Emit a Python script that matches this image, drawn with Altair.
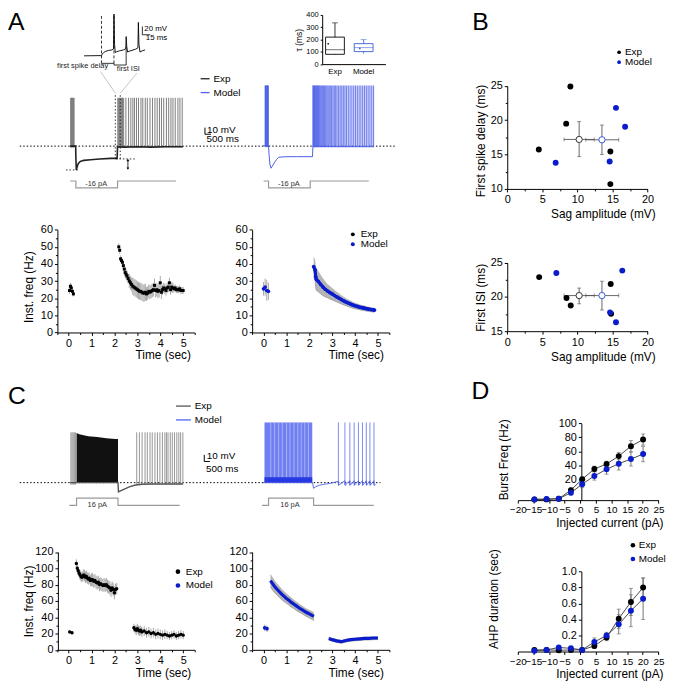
import altair as alt
import pandas as pd

# ============================ DATA ============================
series = ["Exp", "Model"]

# --- A inset: box plot of tau (ms)
tau_group = ["Exp", "Model"]
tau_whisk_lo = [76, 86]
tau_q1 = [80, 102]
tau_median = [117, 134]
tau_q3 = [220, 167]
tau_whisk_hi = [336, 199]
tau_mean = [166, 128]

# --- A traces: time (s), membrane potential (mV relative to rest)
a_exp_sub_t = [0, 0.24, 0.25, 0.27, 0.30, 0.36, 0.45, 0.60, 0.90, 1.30, 1.80, 2.08, 2.10, 2.40, 3.00, 3.60, 4.20, 5.00]
a_exp_sub_v = [0, 0, -18, -36, -32, -26, -23, -21.5, -20.5, -19.5, -18.5, -18.5, -1, -1.5, -1, -1.5, -1, -1]
a_exp_spikes = [0.02, 0.05, 0.08, 0.11, 0.14, 0.17,
                2.11, 2.15, 2.19, 2.24, 2.28, 2.32, 2.37, 2.47, 2.59, 2.69, 2.78, 2.85, 2.94, 3.03,
                3.14, 3.22, 3.33, 3.42, 3.54, 3.65, 3.76, 3.86, 3.96, 4.05, 4.15, 4.27, 4.37, 4.47,
                4.56, 4.66, 4.78, 4.87, 4.97]
a_exp_spike_peak = 73
a_mod_sub_t = [0, 0.25, 0.27, 0.31, 0.36, 0.42, 0.50, 0.60, 0.70, 1.00, 1.50, 2.00, 2.20, 2.22, 3.00, 4.00, 4.92]
a_mod_sub_v = [0, 0, -12, -28, -34, -31, -26, -21, -17.5, -16.5, -16.5, -16.5, -16.5, -1.5, -1.5, -1.5, -1.5]
a_mod_spikes = [0.10, 0.12, 0.14, 0.16, 0.18, 0.20, 0.22, 0.24,
                2.22, 2.245, 2.27, 2.295, 2.32, 2.35, 2.38, 2.41, 2.44, 2.47, 2.50, 2.54, 2.58, 2.62,
                2.66, 2.70, 2.74, 2.79, 2.84, 2.89, 2.94, 2.99, 3.05, 3.11, 3.17, 3.23, 3.29, 3.36,
                3.43, 3.50, 3.57, 3.64, 3.71, 3.79, 3.87, 3.95, 4.03, 4.11, 4.19, 4.27, 4.35, 4.43,
                4.51, 4.59, 4.67, 4.75, 4.83, 4.91]
a_mod_spike_peak = 91
a_stim_t_exp = [0, 0.25, 0.25, 2.10, 2.10, 4.70]
a_stim_t_mod = [0.03, 0.25, 0.25, 2.10, 2.10, 4.70]
a_stim_pA = [0, 0, -16, -16, 0, 0]

# --- A inset: rebound onset (ms, mV relative to hyperpolarised level)
inset_t = [-24, -2, 0, 1, 3, 6, 10, 14, 16.5, 17.2, 18, 19, 21, 25, 30, 33.5, 34, 34.8, 36, 38,
           42, 47, 50.2, 50.8, 51.6, 53, 56, 60]
inset_v = [0, 0.5, 0, 4, 8, 11, 13, 14, 16, 100, 28, 8, 10, 12, 14, 17, 46, 22, 9, 11,
           13, 16, 19, 80, 28, 9, 12, 14]
inset_marks_ms = [0, 17.2, 34]

# --- A inst. frequency (Hz) vs time (s)
a_exp_f_t = [0.04, 0.08, 0.12, 0.17, 0.21,
             2.19, 2.23, 2.27, 2.31, 2.35, 2.39, 2.43, 2.47, 2.51, 2.55, 2.6, 2.65, 2.7, 2.75, 2.8,
             2.85, 2.9, 2.95, 3.0, 3.05, 3.1, 3.15, 3.2, 3.25, 3.3, 3.35, 3.4, 3.45, 3.5, 3.55, 3.6,
             3.65, 3.7, 3.75, 3.8, 3.85, 3.9, 3.95, 4.0, 4.05, 4.1, 4.15, 4.2, 4.25, 4.3, 4.35, 4.4,
             4.45, 4.5, 4.55, 4.6, 4.65, 4.7, 4.75, 4.8, 4.85, 4.9, 4.95, 5.0]
a_exp_f_v = [24.5, 27, 26, 24, 22.5,
             50, 48, 43, 42, 41, 39, 37, 35, 34, 33, 31.5, 30, 29, 28, 27,
             26.5, 26, 25.5, 25, 24.5, 24, 24, 23.5, 23, 23, 23.5, 22.5, 23, 24, 23.5, 24,
             24.5, 25, 27.5, 24.5, 25, 24, 24.5, 29, 23.5, 25, 26, 25.5, 24.5, 26, 26.5, 29,
             25, 26.5, 26, 25.5, 26, 25, 25, 25, 25.5, 24.5, 24.5, 24.5]
a_exp_f_e = [2, 2, 2, 1.5, 1.5,
             2, 2, 2, 2, 2, 2, 3, 3, 3, 3, 3, 4, 4, 4, 5,
             5, 5, 5, 5, 5, 5, 5, 5, 5, 5, 5, 4, 4, 4, 4, 4,
             4, 4, 4, 4, 4, 4, 4, 4, 4, 3, 3, 3, 3, 3, 3, 3,
             3, 3, 3, 2, 2, 2, 2, 2, 2, 2, 2, 2]
a_mod_f_t0 = [0.0, 0.07, 0.14, 0.21]
a_mod_f_v0 = [25.5, 26.5, 24.5, 24]
a_mod_f_e0 = [4, 5, 6, 5]
a_mod_f_t = [2.19, 2.25, 2.28, 2.31, 2.4, 2.5, 2.6, 2.7, 2.8, 2.9, 3.0, 3.1, 3.2, 3.3, 3.4,
             3.5, 3.6, 3.7, 3.8, 3.9, 4.0, 4.1, 4.2, 4.3, 4.4, 4.5, 4.6, 4.7, 4.8, 4.85]
a_mod_f_v = [38.5, 36.5, 32.5, 31, 29.7, 28, 26.5, 25.2, 24.2, 23.3, 22.5, 21.6, 20.8, 20, 19.2,
             18.5, 17.8, 17.2, 16.6, 16.1, 15.6, 15.2, 14.8, 14.5, 14.2, 13.9, 13.6, 13.4, 13.2, 13.1]
a_mod_f_e = [6, 6, 6.5, 6.5, 6, 5.5, 5, 4.5, 4, 3.8, 3.5, 3.2, 3, 2.8, 2.6,
             2.4, 2.2, 2.1, 2, 1.9, 1.8, 1.7, 1.6, 1.5, 1.5, 1.4, 1.4, 1.3, 1.3, 1.3]

# --- B scatter: sag amplitude (mV) vs first spike delay / first ISI (ms)
b_exp_sag = [4.5, 9.0, 8.4, 14.7, 14.7]
b_exp_delay = [15.75, 24.9, 19.5, 15.45, 10.7]
b_mod_sag = [6.9, 15.5, 16.8, 14.6]
b_mod_delay = [13.8, 21.8, 19.05, 14.0]
b_exp_sag2 = [4.55, 8.45, 9.05, 14.75, 14.8]
b_exp_isi = [22.9, 19.85, 18.75, 21.9, 17.55]
b_mod_sag2 = [7.0, 16.4, 14.65, 15.5]
b_mod_isi = [23.5, 23.85, 17.75, 16.3]
b_mean_sag = [10.25, 13.5]
b_mean_sag_lo = [8.1, 11.2]
b_mean_sag_hi = [12.4, 15.9]
b_mean_delay = [17.2, 17.15]
b_mean_delay_lo = [14.7, 15.0]
b_mean_delay_hi = [19.8, 19.3]
b_mean_isi = [20.2, 20.2]
b_mean_isi_lo = [19.0, 18.1]
b_mean_isi_hi = [21.3, 22.3]

# --- C traces
c_exp_sub_t = [0, 2.12, 2.14, 2.25, 2.45, 2.65, 2.9, 3.2, 3.6, 4.0, 4.5, 5.0]
c_exp_sub_v = [0, 0, -14, -12, -9, -6, -3.5, -2.5, -2, -2, -2, -2]
c_exp_block_t = [0.28, 0.4, 0.8, 1.2, 1.6, 2.0, 2.12]
c_exp_block_top = [75, 73, 70, 69, 67, 66, 66]
c_exp_spikes = [0.03, 0.08, 0.13, 0.18, 0.23,
                2.95, 3.07, 3.19, 3.32, 3.42, 3.54, 3.64, 3.76, 3.87, 3.98, 4.09, 4.2, 4.27,
                4.34, 4.44, 4.53, 4.63, 4.73, 4.82, 4.9, 5.0]
c_exp_spike_peak = 76
c_mod_block_t = [0.07, 2.19]
c_mod_block_top = [91, 91]
c_mod_streaks = [0.35, 0.52, 0.7, 0.86, 1.05, 1.2, 1.38, 1.55, 1.7, 1.86, 2.02]
c_mod_sub_t = [0, 2.2, 2.25, 2.35, 2.5, 2.7, 3.0, 3.35, 3.36, 3.64, 3.65, 3.86, 3.87, 4.05, 4.06,
               4.24, 4.25, 4.42, 4.43, 4.59, 4.6, 4.75, 4.76, 4.93, 4.94, 5.0]
c_mod_sub_v = [0, 0, -8.5, -6, -4, -2.5, -1, 2, -4, 3, -4, 3, -4, 3, -4,
               3, -4, 3, -4, 3, -4, 3, -4, 3, -4, -3]
c_mod_spikes = [3.35, 3.64, 3.86, 4.05, 4.24, 4.42, 4.59, 4.75, 4.93]
c_mod_spike_peak = 91
c_stim_t_exp = [-0.04, 0.28, 0.28, 2.12, 2.12, 4.86]
c_stim_t_mod = [-0.04, 0.25, 0.25, 2.25, 2.25, 4.92]
c_stim_pA = [0, 0, 16, 16, 0, 0]

# --- C inst. frequency
c_exp_f_t = [0.05, 0.15,
             0.34, 0.38, 0.42, 0.46, 0.5, 0.54, 0.58, 0.62, 0.66, 0.7, 0.74, 0.78, 0.82, 0.86, 0.9,
             0.95, 1.0, 1.05, 1.1, 1.15, 1.2, 1.25, 1.3, 1.35, 1.4, 1.45, 1.5, 1.55, 1.6, 1.65,
             1.7, 1.75, 1.8, 1.85, 1.9, 1.95, 2.0, 2.05, 2.1,
             2.85, 2.9, 2.95, 3.0, 3.05, 3.1, 3.15, 3.2, 3.3, 3.4, 3.5, 3.6, 3.7, 3.8, 3.9, 4.0,
             4.1, 4.2, 4.3, 4.4, 4.5, 4.6, 4.7, 4.8, 4.9, 5.0]
c_exp_f_v = [22, 21,
             106, 100, 97, 94, 92, 90, 89, 90, 92, 91, 89, 90, 88, 87, 88,
             85, 86, 86, 84, 85, 83, 82, 83, 80, 81, 80, 79, 80, 79, 80,
             78, 77, 76, 73, 76, 74, 70, 74, 75,
             27, 25, 24, 26, 24, 23, 24, 22, 23, 21, 22, 20, 21, 19, 20, 19,
             18, 19, 18, 17, 18, 19, 17, 18, 19, 18]
c_exp_f_e = [2, 2,
             5, 5, 5, 5, 6, 6, 6, 6, 7, 7, 7, 7, 7, 7, 7,
             7, 8, 8, 8, 8, 8, 8, 8, 8, 8, 8, 8, 8, 8, 8,
             8, 8, 8, 8, 8, 8, 8, 7, 7,
             5, 5, 6, 6, 6, 6, 6, 6, 6, 6, 6, 6, 6, 6, 6, 6,
             6, 6, 5, 5, 5, 5, 5, 5, 5, 5]
c_mod_f_t0 = [0.05, 0.15]
c_mod_f_v0 = [27, 26]
c_mod_f_e0 = [4, 4]
c_mod_f_t = [0.3, 0.4, 0.5, 0.6, 0.7, 0.8, 0.9, 1.0, 1.1, 1.2, 1.3, 1.4, 1.5, 1.6, 1.7, 1.8, 1.9,
             2.0, 2.1, 2.2]
c_mod_f_v = [85, 81, 77, 74, 71, 68, 65.5, 63, 61, 58.5, 56.5, 54.5, 52.5, 50.5, 49, 47, 45.5,
             44, 42.5, 41]
c_mod_f_e = [8, 8, 7.5, 7, 7, 6.5, 6.5, 6, 6, 6, 5.5, 5.5, 5.5, 5, 5, 5, 5, 5, 5, 5]
c_mod_f_t2 = [2.85, 3.0, 3.2, 3.4, 3.6, 3.8, 4.0, 4.2, 4.4, 4.6, 4.8, 5.0]
c_mod_f_v2 = [14, 12.5, 11, 10, 11.5, 12.5, 13, 13.5, 14, 14, 14.5, 14.5]
c_mod_f_e2 = [2, 2, 2, 2, 2, 2, 2, 2, 2, 2, 2, 2]

# --- D: injected current (pA) vs burst frequency (Hz) and AHP duration (s)
d_current_exp = [-14.7, -10.8, -6.9, -3.0, 0.6, 4.5, 8.4, 12.3, 16.2, 20.1]
d_current_mod = [-14.7, -10.8, -6.9, -3.0, 0.6, 4.5, 8.4, 12.3, 16.2, 20.1]
d_burst_exp = [-8.9, -8.9, -7.9, 4.4, 20, 34.7, 41.8, 53.1, 67.3, 76.8]
d_burst_exp_e = [0, 0, 0, 3, 3, 4, 4, 5, 8, 8]
d_burst_mod = [-8.9, -8.4, -7.9, 0.6, 12.9, 24.7, 34.2, 42.2, 48.9, 56]
d_burst_mod_e = [0, 0, 0, 3, 5, 6, 7, 9, 10, 11]
d_ahp_exp = [0.02, 0.02, 0.015, 0.02, 0.02, 0.07, 0.175, 0.41, 0.62, 0.80]
d_ahp_exp_e = [0.01, 0.01, 0.01, 0.01, 0.01, 0.03, 0.04, 0.12, 0.17, 0.12]
d_ahp_mod = [0.01, 0.02, 0.05, 0.04, 0.02, 0.12, 0.20, 0.34, 0.51, 0.66]
d_ahp_mod_e = [0.01, 0.01, 0.02, 0.02, 0.01, 0.05, 0.04, 0.12, 0.2, 0.26]

# ============================ LAYOUT HELPERS ============================
OX, OY = 8, 8
W, H = 668, 678
FONT = "Liberation Sans"
BLACK = "#000000"
BLUE = "#0a1ccc"
TRACE_BLUE = "#4a5ee8"
GREY = "#a8a8a8"


def sc(dom, a, b):
    return alt.Scale(domain=dom, range=[a, b], nice=False, zero=False)


def ex(field, P, axis=None):
    dom, a, b = P
    return alt.X(field, type="quantitative", scale=sc(dom, a - OX, b - OX), axis=axis)


def ey(field, P, axis=None):
    dom, a, b = P
    return alt.Y(field, type="quantitative", scale=sc(dom, a - OY, b - OY), axis=axis)


def axb(y_img, values=None, title=None, t_end=None, t_y=None, lsize=11, tsize=12, **kw):
    d = dict(orient="bottom", offset=(y_img - OY) - H, labelFontSize=lsize,
             titleFontSize=tsize, labelFlush=False, labelOverlap=False, labelPadding=2)
    if values is not None:
        d["values"] = values
    if title:
        d.update(title=title, titleX=t_end - OX, titleY=t_y - y_img, titleAlign="right",
                 titleBaseline="middle")
    else:
        d.update(title=None)
    d.update(kw)
    return alt.Axis(**d)


def axl(x_img, values=None, title=None, t_x=None, t_y=None, lsize=11, tsize=12, **kw):
    d = dict(orient="left", offset=-(x_img - OX), labelFontSize=lsize,
             titleFontSize=tsize, labelFlush=False, labelOverlap=False, labelPadding=2)
    if values is not None:
        d["values"] = values
    if title:
        d.update(title=title, titleX=t_x - x_img, titleY=t_y - OY, titleAngle=270,
                 titleAlign="center", titleBaseline="middle")
    else:
        d.update(title=None)
    d.update(kw)
    return alt.Axis(**d)


def legend(dot_x, dot_y, size, row_pad, stype="circle", label_size=10, stroke_w=None, loff=3):
    d = dict(orient="none", legendX=dot_x - OX, legendY=dot_y - 5 - OY, title=None, padding=0,
             symbolType=stype, symbolSize=size, rowPadding=row_pad, labelFontSize=label_size,
             labelOffset=loff, direction="vertical", symbolOpacity=1)
    if stroke_w:
        d.update(symbolStrokeWidth=stroke_w)
    return alt.Legend(**d)


def cscale(rng):
    return alt.Scale(domain=series, range=rng)


layers = []
L = layers.append


def idx(n):
    return list(range(n))


def spikes_df(times, lo, peak):
    return pd.DataFrame({"t": times, "lo": [lo] * len(times), "hi": [peak] * len(times)})


def minor_ticks(PX, PY, x_axis_y, y_axis_x, xvals, yvals):
    d = pd.DataFrame({"a": [PX[0][0]], "b": [PY[0][0]]})
    L(alt.Chart(d).mark_point(opacity=0).encode(
        x=ex("a", PX, axis=alt.Axis(orient="bottom", offset=(x_axis_y - OY) - H, values=xvals,
                                    labels=False, domain=False, title=None, tickSize=2)),
        y=ey("b", PY, axis=alt.Axis(orient="left", offset=-(y_axis_x - OX), values=yvals,
                                    labels=False, domain=False, title=None, tickSize=2))))


# ============================ PANEL A : traces ============================
AEX = ([0, 5], 71, 185)
AEY = ([-40, 80], 170.5, 90.1)
AMX = ([0, 5], 266, 380)
AMY = ([-40, 100], 170.1, 76.3)
ASX_E = ([0, 5], 71, 185)
ASX_M = ([0, 5], 266, 380)
ASY = ([-16, 0], 186, 179)

L(alt.Chart(pd.DataFrame({"t0": [-2.24], "t1": [14.43], "v": [0]}))
  .mark_rule(color=BLACK, strokeDash=[1.5, 2], strokeWidth=1)
  .encode(x=ex("t0", AEX), x2="t1", y=ey("v", AEY)))
L(alt.Chart(spikes_df(a_exp_spikes, -2, a_exp_spike_peak))
  .mark_rule(color="#6e6e6e", strokeWidth=0.9)
  .encode(x=ex("t", AEX), y=ey("lo", AEY), y2="hi"))
L(alt.Chart(pd.DataFrame({"t": a_exp_sub_t, "v": a_exp_sub_v, "s": ["Exp"] * len(a_exp_sub_t),
                          "i": idx(len(a_exp_sub_t))}))
  .mark_line(strokeWidth=1.6)
  .encode(x=ex("t", AEX), y=ey("v", AEY), order="i:Q",
          color=alt.Color("s:N", scale=cscale(["#222222", "#4d62f0"]),
                          legend=legend(202, 75, 81, 3, stype="stroke", stroke_w=1.3))))
L(alt.Chart(pd.DataFrame({"t0": [-0.19, 2.03], "t1": [0.39, 2.95], "v": [-36, -19.4]}))
  .mark_rule(color=BLACK, strokeDash=[1.5, 2], strokeWidth=0.8)
  .encode(x=ex("t0", AEX), x2="t1", y=ey("v", AEY)))
L(alt.Chart(pd.DataFrame({"t": [2.0, 2.22], "v0": [-19.4, -19.4], "v1": [80, 80]}))
  .mark_rule(color=BLACK, strokeDash=[1.5, 2], strokeWidth=0.8)
  .encode(x=ex("t", AEX), y=ey("v0", AEY), y2="v1"))
L(alt.Chart(pd.DataFrame({"t": [2.56], "v0": [-21], "v1": [-34]}))
  .mark_rule(color=BLACK, strokeWidth=0.8)
  .encode(x=ex("t", AEX), y=ey("v0", AEY), y2="v1"))
L(alt.Chart(pd.DataFrame({"t": [2.56, 2.56], "v": [-21, -34], "sh": ["triangle-up", "triangle-down"]}))
  .mark_point(filled=True, color=BLACK, size=8, opacity=1)
  .encode(x=ex("t", AEX), y=ey("v", AEY), shape=alt.Shape("sh:N", scale=None)))
L(alt.Chart(pd.DataFrame({"t0": [1.346, 2.952], "v0": [112.5, 110], "t1": [2.004, 2.224], "v1": [80.1, 80.1]}))
  .mark_rule(color="#9a9a9a", strokeWidth=0.6)
  .encode(x=ex("t0", AEX), y=ey("v0", AEY), x2="t1", y2="v1"))
L(alt.Chart(pd.DataFrame({"t0": [5.98, 5.98], "t1": [5.98, 6.25], "v0": [18, 18], "v1": [28, 18]}))
  .mark_rule(color=BLACK, strokeWidth=1)
  .encode(x=ex("t0", AEX), x2="t1", y=ey("v0", AEY), y2="v1"))
L(alt.Chart(pd.DataFrame({"t": [6.07, 6.05], "v": [25, 10], "txt": ["10 mV", "500 ms"]}))
  .mark_text(align="left", baseline="middle", fontSize=10, font=FONT)
  .encode(x=ex("t", AEX), y=ey("v", AEY), text="txt:N"))

L(alt.Chart(spikes_df(a_mod_spikes, -2, a_mod_spike_peak))
  .mark_rule(color=TRACE_BLUE, strokeWidth=1.25, opacity=0.75)
  .encode(x=ex("t", AMX), y=ey("lo", AMY), y2="hi"))
L(alt.Chart(pd.DataFrame({"t": a_mod_sub_t, "v": a_mod_sub_v, "i": idx(len(a_mod_sub_t))}))
  .mark_line(strokeWidth=1, color=TRACE_BLUE)
  .encode(x=ex("t", AMX), y=ey("v", AMY), order="i:Q"))

for tlist, P in ((a_stim_t_exp, ASX_E), (a_stim_t_mod, ASX_M)):
    L(alt.Chart(pd.DataFrame({"t": tlist, "I": a_stim_pA, "i": idx(len(tlist))}))
      .mark_line(color="#9a9a9a", strokeWidth=1.2)
      .encode(x=ex("t", P), y=ey("I", ASY), order="i:Q"))
    L(alt.Chart(pd.DataFrame({"t": [1.15], "I": [-8], "txt": ["-16 pA"]}))
      .mark_text(fontSize=7.5, font=FONT, baseline="middle", color="#333333")
      .encode(x=ex("t", P), y=ey("I", ASY), text="txt:N"))

# ---- A inset (rebound onset)
IX = ([-24, 60], 85, 146.7)
IY = ([0, 100], 52.3, 10)
L(alt.Chart(pd.DataFrame({"t": inset_marks_ms[:2], "v0": [-18, -18], "v1": [98, 98]}))
  .mark_rule(color=BLACK, strokeDash=[3, 2], strokeWidth=0.8)
  .encode(x=ex("t", IX), y=ey("v0", IY), y2="v1"))
L(alt.Chart(pd.DataFrame({"t": inset_t, "v": inset_v, "i": idx(len(inset_t))}))
  .mark_line(color=BLACK, strokeWidth=0.9)
  .encode(x=ex("t", IX), y=ey("v", IY), order="i:Q"))
L(alt.Chart(pd.DataFrame({"t0": [0, 17.2], "t1": [17.2, 34], "v": [-18, -22]}))
  .mark_rule(color=BLACK, strokeWidth=0.8)
  .encode(x=ex("t0", IX), x2="t1", y=ey("v", IY)))
L(alt.Chart(pd.DataFrame({"t": [17.2, 34], "v0": [-22, -22], "v1": [-18, 22]}))
  .mark_rule(color=BLACK, strokeWidth=0.8)
  .encode(x=ex("t", IX), y=ey("v0", IY), y2="v1"))
L(alt.Chart(pd.DataFrame({"t": [-26, 37], "v": [-23.5, -31.5], "txt": ["first spike delay", "first ISI"]}))
  .mark_text(fontSize=7.5, font=FONT, baseline="middle", color="#222222")
  .encode(x=ex("t", IX), y=ey("v", IY), text="txt:N"))
L(alt.Chart(pd.DataFrame({"t0": [56.3, 56.3], "t1": [56.3, 67.3], "v0": [50.4, 50.4], "v1": [70.4, 50.4]}))
  .mark_rule(color=BLACK, strokeWidth=0.8)
  .encode(x=ex("t0", IX), x2="t1", y=ey("v0", IY), y2="v1"))
L(alt.Chart(pd.DataFrame({"t": [59, 61], "v": [64, 43], "txt": ["20 mV", "15 ms"]}))
  .mark_text(align="left", baseline="middle", fontSize=8, font=FONT)
  .encode(x=ex("t", IX), y=ey("v", IY), text="txt:N"))

# ---- A inset box plot
BXS = alt.Scale(domain=tau_group, range=[326 - OX, 390 - OX], paddingInner=0.3, paddingOuter=0.2535, align=0.19)
BY = ([0, 400], 60.7, 11)
box_df = pd.DataFrame({"g": tau_group, "lo": tau_whisk_lo, "q1": tau_q1, "med": tau_median,
                       "q3": tau_q3, "hi": tau_whisk_hi, "mean": tau_mean})
box_col = alt.Scale(domain=tau_group, range=[BLACK, "#3a5bd9"])
L(alt.Chart(box_df).mark_rule(strokeWidth=0.8)
  .encode(x=alt.X("g:N", scale=BXS,
                  axis=axb(60.7, lsize=8, ticks=False, labelPadding=3, labelAngle=0)),
          y=ey("lo", BY, axis=axl(326, [0, 100, 200, 300, 400], "τ (ms)", 302, 36, lsize=7.5, tsize=8.5, tickSize=2)),
          y2="hi", color=alt.Color("g:N", scale=box_col, legend=None)))
L(alt.Chart(box_df).mark_tick(size=6, thickness=0.8)
  .encode(x=alt.X("g:N", scale=BXS, axis=None), y=ey("hi", BY), color=alt.Color("g:N", scale=box_col, legend=None)))
L(alt.Chart(box_df).mark_bar(size=19, fill="white", strokeWidth=0.9)
  .encode(x=alt.X("g:N", scale=BXS, axis=None), y=ey("q1", BY), y2="q3",
          stroke=alt.Stroke("g:N", scale=box_col, legend=None)))
L(alt.Chart(box_df).mark_tick(size=19, thickness=0.8)
  .encode(x=alt.X("g:N", scale=BXS, axis=None), y=ey("med", BY), color=alt.Color("g:N", scale=box_col, legend=None)))
L(alt.Chart(box_df).mark_point(size=3, filled=True, opacity=1)
  .encode(x=alt.X("g:N", scale=BXS, axis=None), y=ey("mean", BY), color=alt.Color("g:N", scale=box_col, legend=None)))


def err_df(t, v, e):
    return pd.DataFrame({"t": t, "v": v, "lo": [a - b for a, b in zip(v, e)], "hi": [a + b for a, b in zip(v, e)]})


# ============================ A inst. frequency ============================
FAEX = ([-0.5, 5.5], 57.7, 196.9)
FAMX = ([-0.5, 5.5], 255.1, 394.0)
FAY = ([0, 60], 332.3, 228.3)
half_sec = [-0.5, 0.5, 1.5, 2.5, 3.5, 4.5, 5.5]

minor_ticks(FAEX, FAY, 332.3, 58, half_sec, [5, 15, 25, 35, 45, 55])
minor_ticks(FAMX, FAY, 332.3, 255.1, half_sec, [5, 15, 25, 35, 45, 55])

d = err_df(a_exp_f_t, a_exp_f_v, a_exp_f_e)
L(alt.Chart(d).mark_rule(color=GREY, strokeWidth=1)
  .encode(x=ex("t", FAEX, axis=axb(332.3, [0, 1, 2, 3, 4, 5], "Time (sec)", 192.7, 355)),
          y=ey("lo", FAY, axis=axl(58, [0, 10, 20, 30, 40, 50, 60], "Inst. freq (Hz)", 29, 286)), y2="hi"))
L(alt.Chart(d).mark_square(color=BLACK, size=9, opacity=1)
  .encode(x=ex("t", FAEX), y=ey("v", FAY)))
d0 = err_df(a_mod_f_t0, a_mod_f_v0, a_mod_f_e0)
d1 = err_df(a_mod_f_t, a_mod_f_v, a_mod_f_e)
L(alt.Chart(d0).mark_rule(color=GREY, strokeWidth=1)
  .encode(x=ex("t", FAMX, axis=axb(332.3, [0, 1, 2, 3, 4, 5], "Time (sec)", 388, 355)),
          y=ey("lo", FAY, axis=axl(255.1, [0, 10, 20, 30, 40, 50, 60])), y2="hi"))
L(alt.Chart(d1).mark_area(color="#b5b5b5", opacity=1, line={"color": "#8a8a8a", "strokeWidth": 0.6})
  .encode(x=ex("t", FAMX), y=ey("lo", FAY), y2="hi"))
L(alt.Chart(d1).mark_line(color=BLUE, strokeWidth=3.2)
  .encode(x=ex("t", FAMX), y=ey("v", FAY)))
L(alt.Chart(pd.concat([d0, d1]).assign(s="Model")).mark_circle(size=14, opacity=1)
  .encode(x=ex("t", FAMX), y=ey("v", FAY),
          color=alt.Color("s:N", scale=cscale([BLACK, BLUE]), legend=legend(352, 233, 16, -1))))

# ============================ PANEL B ============================
BX1 = ([0, 20], 513.3, 655.3)
BY1 = ([10, 25], 187, 82.7)
BY2 = ([15, 25], 331, 261.7)

bpts1 = pd.DataFrame({"x": b_exp_sag + b_mod_sag, "y": b_exp_delay + b_mod_delay,
                      "s": ["Exp"] * len(b_exp_sag) + ["Model"] * len(b_mod_sag)})
bpts2 = pd.DataFrame({"x": b_exp_sag2 + b_mod_sag2, "y": b_exp_isi + b_mod_isi,
                      "s": ["Exp"] * len(b_exp_sag2) + ["Model"] * len(b_mod_sag2)})
bmean1 = pd.DataFrame({"x": b_mean_sag, "xlo": b_mean_sag_lo, "xhi": b_mean_sag_hi,
                       "y": b_mean_delay, "ylo": b_mean_delay_lo, "yhi": b_mean_delay_hi, "s": series})
bmean2 = pd.DataFrame({"x": b_mean_sag, "xlo": b_mean_sag_lo, "xhi": b_mean_sag_hi,
                       "y": b_mean_isi, "ylo": b_mean_isi_lo, "yhi": b_mean_isi_hi, "s": series})

minor_ticks(BX1, BY1, 187, 513.3, [2.5, 7.5, 12.5, 17.5], [12.5, 17.5, 22.5])
minor_ticks(BX1, BY2, 331, 513.3, [2.5, 7.5, 12.5, 17.5], [17.5, 22.5])

for PY, pts, mean, yvals, ytitle, ytitle_y, xaxis_y, xt_y, with_leg in (
        (BY1, bpts1, bmean1, [10, 15, 20, 25], "First spike delay (ms)", 138, 187, 211.7, True),
        (BY2, bpts2, bmean2, [15, 20, 25], "First ISI (ms)", 296.7, 331, 356.7, False)):
    L(alt.Chart(mean).mark_rule(color="#555555", strokeWidth=0.9)
      .encode(x=ex("xlo", BX1, axis=axb(xaxis_y, [0, 5, 10, 15, 20], "Sag amplitude (mV)", 663, xt_y)),
              x2="xhi",
              y=ey("y", PY, axis=axl(513.3, yvals, ytitle, 486.7, ytitle_y))))
    L(alt.Chart(mean).mark_rule(color="#555555", strokeWidth=0.9)
      .encode(x=ex("x", BX1), y=ey("ylo", PY), y2="yhi"))
    for fld in ("ylo", "yhi"):
        L(alt.Chart(mean).mark_tick(orient="horizontal", size=4, thickness=0.9, color="#555555")
          .encode(x=ex("x", BX1), y=ey(fld, PY)))
    for fld in ("xlo", "xhi"):
        L(alt.Chart(mean).mark_tick(orient="vertical", size=4, thickness=0.9, color="#555555")
          .encode(x=ex(fld, BX1), y=ey("y", PY)))
    leg = legend(621.5, 48.7, 14, 0, loff=1) if with_leg else None
    col = alt.Color("s:N", scale=cscale([BLACK, BLUE]), legend=leg)
    L(alt.Chart(pts).mark_circle(size=36, opacity=1).encode(x=ex("x", BX1), y=ey("y", PY), color=col))
    L(alt.Chart(mean).mark_point(size=40, filled=True, fill="white", strokeWidth=1, opacity=1)
      .encode(x=ex("x", BX1), y=ey("y", PY),
              stroke=alt.Stroke("s:N", scale=cscale(["#333333", "#3a5bd9"]), legend=None)))

# ============================ PANEL C : traces ============================
CEX = ([0, 5], 71, 185)
CEY = ([-40, 80], 511.1, 430.7)
CMX = ([0, 5], 266, 380)
CMY = ([-40, 100], 511.1, 417.3)
CSY = ([0, 16], 507.3, 500)

L(alt.Chart(pd.DataFrame({"t0": [-2.24], "t1": [13.77], "v": [0]}))
  .mark_rule(color=BLACK, strokeDash=[1.5, 2], strokeWidth=1)
  .encode(x=ex("t0", CEX), x2="t1", y=ey("v", CEY)))
L(alt.Chart(pd.DataFrame({"t": c_exp_block_t, "top": c_exp_block_top, "bot": [0] * len(c_exp_block_t)}))
  .mark_area(color="#111111", opacity=1)
  .encode(x=ex("t", CEX), y=ey("bot", CEY), y2="top"))
L(alt.Chart(spikes_df(c_exp_spikes, -3, c_exp_spike_peak))
  .mark_rule(color="#8a8a8a", strokeWidth=0.9)
  .encode(x=ex("t", CEX), y=ey("lo", CEY), y2="hi"))
L(alt.Chart(pd.DataFrame({"t": c_exp_sub_t, "v": c_exp_sub_v, "s": ["Exp"] * len(c_exp_sub_t),
                          "i": idx(len(c_exp_sub_t))}))
  .mark_line(strokeWidth=1.4)
  .encode(x=ex("t", CEX), y=ey("v", CEY), order="i:Q",
          color=alt.Color("s:N", scale=cscale(["#555555", "#4d62f0"]),
                          legend=legend(177, 403.3, 225, -2, stype="stroke", stroke_w=1.3))))
L(alt.Chart(pd.DataFrame({"t0": [5.95, 5.95], "t1": [5.95, 6.2], "v0": [32, 32], "v1": [42, 32]}))
  .mark_rule(color=BLACK, strokeWidth=1)
  .encode(x=ex("t0", CEX), x2="t1", y=ey("v0", CEY), y2="v1"))
L(alt.Chart(pd.DataFrame({"t": [6.06, 6.03], "v": [40.5, 21], "txt": ["10 mV", "500 ms"]}))
  .mark_text(align="left", baseline="middle", fontSize=10, font=FONT)
  .encode(x=ex("t", CEX), y=ey("v", CEY), text="txt:N"))

L(alt.Chart(pd.DataFrame({"t": c_mod_block_t, "top": c_mod_block_top, "bot": [0, 0]}))
  .mark_area(color="#5f70ee", opacity=0.9)
  .encode(x=ex("t", CMX), y=ey("bot", CMY), y2="top"))
L(alt.Chart(spikes_df(c_mod_streaks, 8, c_mod_spike_peak))
  .mark_rule(color="#a9b3f6", strokeWidth=1)
  .encode(x=ex("t", CMX), y=ey("lo", CMY), y2="hi"))
L(alt.Chart(pd.DataFrame({"t": c_mod_block_t, "top": [8, 8], "bot": [0, 0]}))
  .mark_area(color="#1f33e0", opacity=0.9)
  .encode(x=ex("t", CMX), y=ey("bot", CMY), y2="top"))
L(alt.Chart(spikes_df(c_mod_spikes, -4, c_mod_spike_peak))
  .mark_rule(color=TRACE_BLUE, strokeWidth=0.9, opacity=0.8)
  .encode(x=ex("t", CMX), y=ey("lo", CMY), y2="hi"))
L(alt.Chart(pd.DataFrame({"t": c_mod_sub_t, "v": c_mod_sub_v, "i": idx(len(c_mod_sub_t))}))
  .mark_line(strokeWidth=0.9, color=TRACE_BLUE)
  .encode(x=ex("t", CMX), y=ey("v", CMY), order="i:Q"))

for tlist, P in ((c_stim_t_exp, CEX), (c_stim_t_mod, CMX)):
    L(alt.Chart(pd.DataFrame({"t": tlist, "I": c_stim_pA, "i": idx(len(tlist))}))
      .mark_line(color="#9a9a9a", strokeWidth=1.2)
      .encode(x=ex("t", P), y=ey("I", CSY), order="i:Q"))
    L(alt.Chart(pd.DataFrame({"t": [1.2], "I": [1.3], "txt": ["16 pA"]}))
      .mark_text(fontSize=7.5, font=FONT, baseline="middle", color="#333333")
      .encode(x=ex("t", P), y=ey("I", CSY), text="txt:N"))

# ============================ C inst. frequency ============================
FCEX = ([-0.5, 5.5], 57.7, 196.9)
FCMX = ([-0.5, 5.5], 255.1, 394.0)
FCY = ([0, 120], 653.5, 554.5)
cvals = [0, 20, 40, 60, 80, 100, 120]

minor_ticks(FCEX, FCY, 653.5, 58.5, half_sec, [10, 30, 50, 70, 90, 110])
minor_ticks(FCMX, FCY, 653.5, 255.1, half_sec, [10, 30, 50, 70, 90, 110])

d = err_df(c_exp_f_t, c_exp_f_v, c_exp_f_e)
L(alt.Chart(d).mark_rule(color=GREY, strokeWidth=1)
  .encode(x=ex("t", FCEX, axis=axb(653.5, [0, 1, 2, 3, 4, 5], "Time (sec)", 193, 677)),
          y=ey("lo", FCY, axis=axl(58.5, cvals, "Inst. freq (Hz)", 29, 604)), y2="hi"))
L(alt.Chart(d.assign(s="Exp")).mark_circle(size=12, opacity=1)
  .encode(x=ex("t", FCEX), y=ey("v", FCY),
          color=alt.Color("s:N", scale=cscale([BLACK, BLUE]), legend=legend(175, 574.4, 22, 4))))

d0 = err_df(c_mod_f_t0, c_mod_f_v0, c_mod_f_e0)
d1 = err_df(c_mod_f_t, c_mod_f_v, c_mod_f_e)
d2 = err_df(c_mod_f_t2, c_mod_f_v2, c_mod_f_e2)
L(alt.Chart(d0).mark_rule(color=GREY, strokeWidth=1)
  .encode(x=ex("t", FCMX, axis=axb(653.5, [0, 1, 2, 3, 4, 5], "Time (sec)", 388, 677)),
          y=ey("lo", FCY, axis=axl(255.1, cvals)), y2="hi"))
for dd in (d1, d2):
    L(alt.Chart(dd).mark_area(color="#b5b5b5", opacity=1, line={"color": "#8a8a8a", "strokeWidth": 0.6})
      .encode(x=ex("t", FCMX), y=ey("lo", FCY), y2="hi"))
    L(alt.Chart(dd).mark_line(color=BLUE, strokeWidth=3.2)
      .encode(x=ex("t", FCMX), y=ey("v", FCY)))
L(alt.Chart(d0).mark_circle(size=14, opacity=1, color=BLUE)
  .encode(x=ex("t", FCMX), y=ey("v", FCY)))

# ============================ PANEL D ============================
DX = ([-20, 25], 524, 666.3)
DY1 = ([-10, 100], 502, 424.3)
DY2 = ([0, 1.0], 655.2, 574.3)
dvals = [-20, -15, -10, -5, 0, 5, 10, 15, 20, 25]

ddf1 = pd.DataFrame({"x": d_current_exp + d_current_mod, "y": d_burst_exp + d_burst_mod,
                     "e": d_burst_exp_e + d_burst_mod_e,
                     "s": ["Exp"] * len(d_current_exp) + ["Model"] * len(d_current_mod)})
ddf2 = pd.DataFrame({"x": d_current_exp + d_current_mod, "y": d_ahp_exp + d_ahp_mod,
                     "e": d_ahp_exp_e + d_ahp_mod_e,
                     "s": ["Exp"] * len(d_current_exp) + ["Model"] * len(d_current_mod)})
for dd in (ddf1, ddf2):
    dd["lo"] = dd["y"] - dd["e"]
    dd["hi"] = dd["y"] + dd["e"]

for dd, PY, xy_img, yv, ytitle, yt_x, yt_y, xt_y, fmt, leg in (
        (ddf1, DY1, 502, [20, 40, 60, 80, 100], "Burst Freq (Hz)", 509.3, 460.7, 525, "d", None),
        (ddf2, DY2, 655.2, [0.2, 0.4, 0.6, 0.8, 1.0], "AHP duration (sec)", 499.3, 601.7, 678, ".1f",
         legend(635.5, 547.6, 22, 4, loff=1))):
    L(alt.Chart(dd).mark_rule(color="#666666", strokeWidth=0.9)
      .encode(x=ex("x", DX, axis=axb(xy_img, dvals, "Injected current (pA)", 671, xt_y, lsize=10)),
              y=ey("lo", PY, axis=axl(588.3, yv, ytitle, yt_x, yt_y, format=fmt)), y2="hi"))
    for fld in ("lo", "hi"):
        L(alt.Chart(dd[dd["e"] > 0]).mark_tick(orient="horizontal", size=4, thickness=0.9, color="#666666")
          .encode(x=ex("x", DX), y=ey(fld, PY)))
    L(alt.Chart(dd).mark_line(color="#333333", strokeWidth=0.9)
      .encode(x=ex("x", DX), y=ey("y", PY), detail="s:N"))
    L(alt.Chart(dd).mark_circle(size=36, opacity=1)
      .encode(x=ex("x", DX), y=ey("y", PY),
              color=alt.Color("s:N", scale=cscale([BLACK, BLUE]), legend=leg)))

# ============================ panel letters ============================
for letter, lx, ly in (("A", 8, 26), ("B", 478, 26), ("C", 8, 405), ("D", 477, 400)):
    L(alt.Chart(pd.DataFrame({"txt": [letter]}))
      .mark_text(fontSize=25, font=FONT, align="left", baseline="alphabetic")
      .encode(x=alt.value(lx - OX), y=alt.value(ly - OY), text="txt:N"))

chart = (alt.layer(*layers)
         .resolve_scale(x="independent", y="independent", color="independent", stroke="independent",
                        shape="independent")
         .resolve_axis(x="independent", y="independent")
         .resolve_legend(color="independent", stroke="independent", shape="independent")
         .properties(width=W, height=H, padding=0, autosize=alt.AutoSizeParams(type="none"))
         .configure_view(stroke=None)
         .configure_axis(grid=False, labelFont=FONT, titleFont=FONT, labelColor=BLACK, titleColor=BLACK,
                         domainColor=BLACK, tickColor=BLACK, titleFontWeight="normal", tickSize=3,
                         domainWidth=1, tickWidth=1)
         .configure_legend(labelFont=FONT, labelColor=BLACK)
         .configure_text(font=FONT))

chart.save("out.html", embed_options={"renderer": "svg", "actions": False})
